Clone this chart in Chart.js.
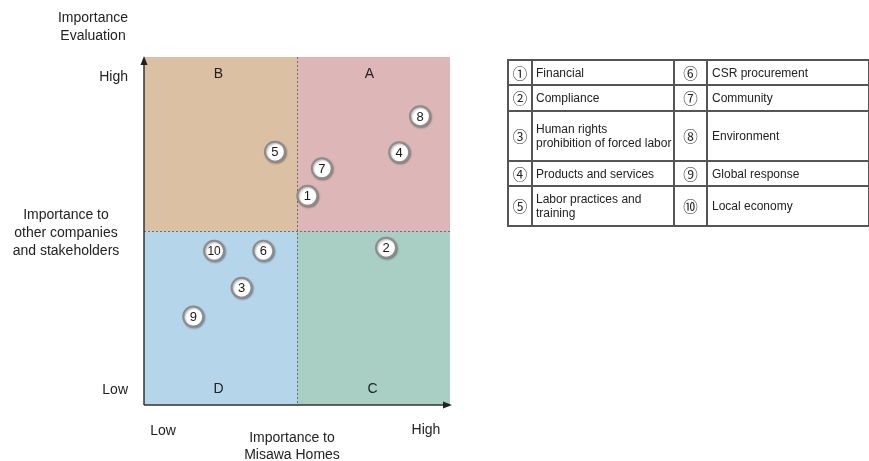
<!DOCTYPE html>
<html>
<head>
<meta charset="utf-8">
<script src="https://cdn.jsdelivr.net/npm/chart.js@4"></script>
<style>
  html, body { margin: 0; padding: 0; background: #fff; }
  #wrap { position: relative; width: 869px; height: 461px; overflow: hidden; }
  #matrix { position: absolute; left: 0; top: 0; }
  #legend {
    position: absolute; left: 507px; top: 59px; width: 361px;
    border-collapse: collapse; table-layout: fixed;
    font-family: "Liberation Sans", Arial, sans-serif;
    font-size: 12px; color: #222;
  }
  #legend td { border: 2px solid #555; padding: 0 3px; vertical-align: middle; line-height: 14px; overflow: hidden; white-space: nowrap; }
  #legend td.num { padding: 0; text-align: center; font-family: "Noto Sans CJK JP", "DejaVu Sans", sans-serif; font-size: 14.5px; }
  #legend td.name.right { padding-left: 4px; }
</style>
</head>
<body>
<div id="wrap">
  <canvas id="matrix" width="869" height="461"></canvas>
  <table id="legend">
    <colgroup><col style="width:24px"><col style="width:142px"><col style="width:33px"><col style="width:162px"></colgroup>
  </table>
</div>
<script>
// materiality topics, numbered 1..10
const topicNo = ['1', '2', '3', '4', '5', '6', '7', '8', '9', '10'];
const circledNo = ['①', '②', '③', '④', '⑤', '⑥', '⑦', '⑧', '⑨', '⑩'];
const topicNames = [
  'Financial',
  'Compliance',
  'Human rights<br>prohibition of forced labor',
  'Products and services',
  'Labor practices and<br>training',
  'CSR procurement',
  'Community',
  'Environment',
  'Global response',
  'Local economy'
];
const rowHeights = [25, 26, 50, 25, 40];

// importance to Misawa Homes (x) and to other companies / stakeholders (y), 0..10
const misawaScore      = [5.34, 7.91, 3.19, 8.34, 4.28, 3.90, 5.81, 9.02, 1.61, 2.29];
const stakeholderScore = [6.01, 4.52, 3.37, 7.26, 7.28, 4.43, 6.80, 8.30, 2.54, 4.43];

const quadrantNames = ['B', 'A', 'D', 'C'];   // top-left, top-right, bottom-left, bottom-right
const quadrantColors = ['#dcc0a3', '#ddb7b8', '#b5d6ea', '#a9cfc4'];
const lowHigh = ['Low', 'High'];
const yTitle = ['Importance', 'Evaluation'];
const sideTitle = ['Importance to', 'other companies', 'and stakeholders'];
const xTitle = ['Importance to', 'Misawa Homes'];

// legend table
const legend = document.getElementById('legend');
rowHeights.forEach((h, r) => {
  const tr = document.createElement('tr');
  tr.style.height = h + 'px';
  [r, r + 5].forEach((i, c) => {
    const side = c ? ' right' : '';
    tr.insertAdjacentHTML('beforeend',
      `<td class="num${side}">${circledNo[i]}</td><td class="name${side}">${topicNames[i]}</td>`);
  });
  legend.appendChild(tr);
});

const FONT = '"Liberation Sans", Arial, sans-serif';

const quadrants = {
  id: 'quadrants',
  beforeDatasetsDraw(chart) {
    const { ctx, chartArea: a, scales: { x, y } } = chart;
    const mx = x.getPixelForValue(5), my = y.getPixelForValue(5);
    ctx.save();
    ctx.fillStyle = quadrantColors[0]; ctx.fillRect(a.left, a.top, mx - a.left, my - a.top);
    ctx.fillStyle = quadrantColors[1]; ctx.fillRect(mx, a.top, a.right - mx, my - a.top);
    ctx.fillStyle = quadrantColors[2]; ctx.fillRect(a.left, my, mx - a.left, a.bottom - my);
    ctx.fillStyle = quadrantColors[3]; ctx.fillRect(mx, my, a.right - mx, a.bottom - my);

    // dotted dividers
    ctx.strokeStyle = '#6f6f6f';
    ctx.lineWidth = 1;
    ctx.setLineDash([2, 2]);
    ctx.beginPath();
    ctx.moveTo(mx + 0.5, a.top); ctx.lineTo(mx + 0.5, a.bottom);
    ctx.moveTo(a.left, my + 0.5); ctx.lineTo(a.right, my + 0.5);
    ctx.stroke();
    ctx.setLineDash([]);

    // axes with arrows
    ctx.strokeStyle = '#333';
    ctx.fillStyle = '#222';
    ctx.lineWidth = 1.5;
    ctx.beginPath();
    ctx.moveTo(a.left, a.bottom); ctx.lineTo(a.left, a.top + 6);
    ctx.moveTo(a.left, a.bottom); ctx.lineTo(a.right - 6, a.bottom);
    ctx.stroke();
    ctx.beginPath();
    ctx.moveTo(a.left, a.top - 1); ctx.lineTo(a.left - 3.5, a.top + 8); ctx.lineTo(a.left + 3.5, a.top + 8);
    ctx.closePath(); ctx.fill();
    ctx.beginPath();
    ctx.moveTo(a.right + 2, a.bottom); ctx.lineTo(a.right - 7, a.bottom - 3.5); ctx.lineTo(a.right - 7, a.bottom + 3.5);
    ctx.closePath(); ctx.fill();

    // quadrant letters
    ctx.font = '14px ' + FONT;
    ctx.fillStyle = '#222';
    ctx.textAlign = 'center';
    ctx.textBaseline = 'middle';
    const lx = [(a.left + mx) / 2 - 2, (mx + a.right) / 2 - 4];
    ctx.fillText(quadrantNames[0], lx[0], a.top + 17);
    ctx.fillText(quadrantNames[1], lx[1], a.top + 17);
    ctx.fillText(quadrantNames[2], lx[0], a.bottom - 16);
    ctx.fillText(quadrantNames[3], lx[1] + 3, a.bottom - 16);

    // axis texts
    ctx.textAlign = 'right';
    ctx.fillText(lowHigh[1], a.left - 16, a.top + 20);
    ctx.fillText(lowHigh[0], a.left - 16, a.bottom - 15);
    ctx.textAlign = 'center';
    yTitle.forEach((t, i) => ctx.fillText(t, 93, 18 + i * 18));
    sideTitle.forEach((t, i) => ctx.fillText(t, 66, 215 + i * 18.3));
    ctx.fillText(lowHigh[0], a.left + 19, a.bottom + 26);
    ctx.fillText(lowHigh[1], a.right - 24, a.bottom + 25);
    xTitle.forEach((t, i) => ctx.fillText(t, mx - 5, a.bottom + 33 + i * 17.5));
    ctx.restore();
  },
  beforeDatasetDraw(chart) {
    const ctx = chart.ctx;
    ctx.save();
    ctx.shadowColor = 'rgba(0,0,0,0.3)';
    ctx.shadowBlur = 2;
    ctx.shadowOffsetX = 1;
    ctx.shadowOffsetY = 1;
  },
  afterDatasetDraw(chart) {
    chart.ctx.restore();
  },
  afterDatasetsDraw(chart) {
    const ctx = chart.ctx;
    const meta = chart.getDatasetMeta(0);
    ctx.save();
    ctx.fillStyle = '#1a1a1a';
    ctx.textAlign = 'center';
    ctx.textBaseline = 'middle';
    meta.data.forEach((pt, i) => {
      ctx.font = (topicNo[i].length > 1 ? '12px ' : '13px ') + FONT;
      ctx.fillText(topicNo[i], pt.x, pt.y + 1);
    });
    ctx.restore();
  }
};

new Chart(document.getElementById('matrix'), {
  type: 'scatter',
  data: {
    datasets: [{
      data: misawaScore.map((v, i) => ({ x: v, y: stakeholderScore[i] })),
      pointRadius: 10,
      pointHoverRadius: 10,
      pointBackgroundColor: '#ffffff',
      pointBorderColor: '#8c8c8c',
      pointBorderWidth: 2
    }]
  },
  options: {
    responsive: false,
    animation: false,
    layout: { padding: { left: 144, top: 57, right: 419, bottom: 56 } },
    plugins: { legend: { display: false }, tooltip: { enabled: false } },
    scales: {
      x: { type: 'linear', min: 0, max: 10, display: false },
      y: { type: 'linear', min: 0, max: 10, display: false }
    }
  },
  plugins: [quadrants]
});
</script>
</body>
</html>
